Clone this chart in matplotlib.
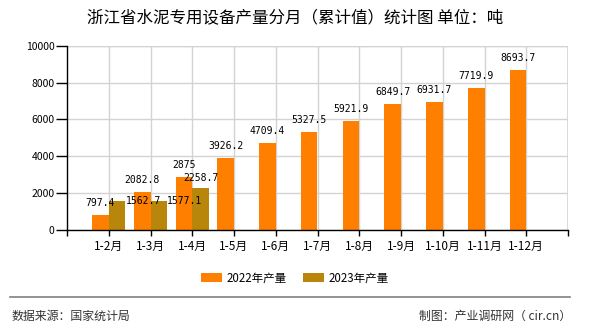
import matplotlib
matplotlib.use("Agg")
import matplotlib.pyplot as plt
from matplotlib.lines import Line2D
import numpy as np

plt.rcParams['font.family'] = ['Noto Sans CJK SC', 'DejaVu Sans']

categories = ["1-2月", "1-3月", "1-4月", "1-5月", "1-6月", "1-7月", "1-8月",
              "1-9月", "1-10月", "1-11月", "1-12月"]
values_2022 = [797.4, 2082.8, 2875, 3926.2, 4709.4, 5327.5, 5921.9,
               6849.7, 6931.7, 7719.9, 8693.7]
values_2023 = [1562.7, 1577.1, 2258.7]
labels_2022 = ["797.4", "2082.8", "2875", "3926.2", "4709.4", "5327.5", "5921.9",
               "6849.7", "6931.7", "7719.9", "8693.7"]
labels_2023 = ["1562.7", "1577.1", "2258.7"]
series_names = ["2022年产量", "2023年产量"]
yticks = [0, 2000, 4000, 6000, 8000, 10000]

c2022 = "#FF8000"
c2023 = "#B8860B"
W, H = 590, 330
fig = plt.figure(figsize=(W / 100, H / 100), dpi=100)
ax = fig.add_axes([67 / W, 1 - 230 / H, (568 - 67) / W, (230 - 45.7) / H])

x = np.arange(len(categories))
bw = 0.4
b1 = ax.bar(x[:len(values_2022)] - bw / 2, values_2022, bw, color=c2022, zorder=3)
b2 = ax.bar(x[:len(values_2023)] + bw / 2, values_2023, bw, color=c2023, zorder=3)

ax.set_xlim(-1, 11)
ax.set_ylim(0, 10000)
ax.set_yticks(yticks)
ax.set_yticklabels([str(v) for v in yticks], fontsize=7.5)
ax.set_xticks(x)
ax.set_xticklabels(categories, fontsize=8.5)
ax.set_xticks([-1, 11], minor=True)
ax.tick_params(axis='x', which='both', length=4, width=1, color='black', pad=3)
ax.tick_params(axis='y', length=8, width=1, color='black', pad=1)
ax.grid(True, which='major', color='#D3D3D3', linewidth=1, zorder=0)
ax.axvline(11, color='#D3D3D3', linewidth=1.2, zorder=0)
ax.axhline(10000, color='#D3D3D3', linewidth=1, zorder=0)
for s in ['top', 'right']:
    ax.spines[s].set_visible(False)
for s in ['left', 'bottom']:
    ax.spines[s].set_color('black')
    ax.spines[s].set_linewidth(1)
    ax.spines[s].set_zorder(4)

lab_font = dict(family='DejaVu Sans Mono', fontsize=7, color='black', zorder=5)
for rect, txt in zip(b1, labels_2022):
    ax.annotate(txt, (rect.get_x() + rect.get_width() / 2, rect.get_height()),
                xytext=(0, 8.6), textcoords='offset points', ha='center', va='center', **lab_font)
# 2023 label placement as in the reference (side-placed for first two)
place_2023 = [('left', 0), ('left', 0), ('center', 7.2)]
for rect, txt, (ha, dy) in zip(b2, labels_2023, place_2023):
    if ha == 'left':
        xp = rect.get_x() + rect.get_width()
    else:
        xp = rect.get_x() + rect.get_width() / 2
    ax.annotate(txt, (xp, rect.get_height()), xytext=(0, dy), textcoords='offset points',
                ha=ha, va='center', **lab_font)

fig.text(0.5, 1 - 18 / H, "浙江省水泥专用设备产量分月（累计值）统计图 单位：吨",
         ha='center', va='center', fontsize=11.9, color='black')

fig.legend([b1, b2], series_names, loc='center', bbox_to_anchor=(0.5, 1 - 278 / H),
           ncol=2, frameon=False, fontsize=8.3, handlelength=1.8, handleheight=0.7,
           handletextpad=0.45, columnspacing=1.4)

fig.add_artist(Line2D([10 / W, 570 / W], [1 - 297 / H, 1 - 297 / H],
                      color='#808080', linewidth=1.2, transform=fig.transFigure))
fig.text(12 / W, 1 - 316 / H, "数据来源：国家统计局", ha='left', va='center',
         fontsize=8.6, color='#333333')
fig.text(571 / W, 1 - 316 / H, "制图：产业调研网（ cir.cn）", ha='right', va='center',
         fontsize=8.6, color='#333333')

fig.savefig("out.png", dpi=100)
